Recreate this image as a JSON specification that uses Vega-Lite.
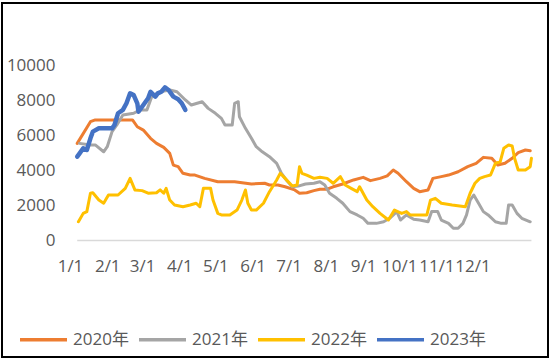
{
  "$schema": "https://vega.github.io/schema/vega-lite/v6.json",
  "width": 546,
  "height": 354,
  "autosize": {"type": "none"},
  "padding": {"left": 2, "top": 3, "right": 2, "bottom": 4},
  "background": "white",
  "config": {"view": {"stroke": "#000000", "strokeWidth": 2}, "font": "Open Sans"},
  "datasets": {
    "series": [
      {"series":"2020年","day":6,"value":5550},{"series":"2020年","day":17,"value":6790},{"series":"2020年","day":21,"value":6890},{"series":"2020年","day":48,"value":6890},{"series":"2020年","day":52,"value":6890},{"series":"2020年","day":56,"value":6500},{"series":"2020年","day":61,"value":6310},{"series":"2020年","day":67,"value":5840},{"series":"2020年","day":72,"value":5550},{"series":"2020年","day":78,"value":5320},{"series":"2020年","day":83,"value":4980},{"series":"2020年","day":86,"value":4310},{"series":"2020年","day":90,"value":4220},{"series":"2020年","day":94,"value":3840},{"series":"2020年","day":100,"value":3740},{"series":"2020年","day":104,"value":3740},{"series":"2020年","day":112,"value":3550},{"series":"2020年","day":123,"value":3360},{"series":"2020年","day":137,"value":3360},{"series":"2020年","day":151,"value":3230},{"series":"2020年","day":162,"value":3270},{"series":"2020年","day":166,"value":3170},{"series":"2020年","day":173,"value":3170},{"series":"2020年","day":179,"value":3070},{"series":"2020年","day":187,"value":2890},{"series":"2020年","day":191,"value":2700},{"series":"2020年","day":197,"value":2730},{"series":"2020年","day":203,"value":2850},{"series":"2020年","day":208,"value":2930},{"series":"2020年","day":214,"value":2930},{"series":"2020年","day":219,"value":3070},{"series":"2020年","day":227,"value":3230},{"series":"2020年","day":236,"value":3460},{"series":"2020年","day":244,"value":3610},{"series":"2020年","day":250,"value":3420},{"series":"2020年","day":258,"value":3550},{"series":"2020年","day":264,"value":3690},{"series":"2020年","day":269,"value":4030},{"series":"2020年","day":273,"value":3840},{"series":"2020年","day":280,"value":3360},{"series":"2020年","day":286,"value":2980},{"series":"2020年","day":291,"value":2790},{"series":"2020年","day":298,"value":2890},{"series":"2020年","day":302,"value":3550},{"series":"2020年","day":309,"value":3650},{"series":"2020年","day":315,"value":3740},{"series":"2020年","day":323,"value":3930},{"series":"2020年","day":331,"value":4220},{"series":"2020年","day":338,"value":4410},{"series":"2020年","day":344,"value":4750},{"series":"2020年","day":351,"value":4700},{"series":"2020年","day":356,"value":4310},{"series":"2020年","day":362,"value":4410},{"series":"2020年","day":368,"value":4700},{"series":"2020年","day":373,"value":5020},{"series":"2020年","day":379,"value":5170},{"series":"2020年","day":383,"value":5130},
      {"series":"2021年","day":8,"value":5550},{"series":"2021年","day":17,"value":5460},{"series":"2021年","day":21,"value":5460},{"series":"2021年","day":28,"value":5070},{"series":"2021年","day":31,"value":5360},{"series":"2021年","day":35,"value":6220},{"series":"2021年","day":39,"value":6600},{"series":"2021年","day":44,"value":7170},{"series":"2021年","day":53,"value":7270},{"series":"2021年","day":58,"value":7460},{"series":"2021年","day":64,"value":7460},{"series":"2021年","day":65,"value":7650},{"series":"2021年","day":68,"value":8220},{"series":"2021年","day":75,"value":8500},{"series":"2021年","day":83,"value":8600},{"series":"2021年","day":89,"value":8500},{"series":"2021年","day":96,"value":8030},{"series":"2021年","day":101,"value":7740},{"series":"2021年","day":110,"value":7930},{"series":"2021年","day":115,"value":7550},{"series":"2021年","day":121,"value":7270},{"series":"2021年","day":126,"value":6980},{"series":"2021年","day":129,"value":6600},{"series":"2021年","day":135,"value":6600},{"series":"2021年","day":137,"value":7840},{"series":"2021年","day":140,"value":7930},{"series":"2021年","day":141,"value":7070},{"series":"2021年","day":146,"value":6410},{"series":"2021年","day":151,"value":5840},{"series":"2021年","day":155,"value":5360},{"series":"2021年","day":160,"value":5070},{"series":"2021年","day":166,"value":4790},{"series":"2021年","day":172,"value":4410},{"series":"2021年","day":176,"value":3840},{"series":"2021年","day":180,"value":3460},{"series":"2021年","day":185,"value":3070},{"series":"2021年","day":190,"value":3110},{"series":"2021年","day":196,"value":3230},{"series":"2021年","day":203,"value":3270},{"series":"2021年","day":208,"value":3360},{"series":"2021年","day":212,"value":3170},{"series":"2021年","day":216,"value":2700},{"series":"2021年","day":222,"value":2410},{"series":"2021年","day":227,"value":2130},{"series":"2021年","day":233,"value":1650},{"series":"2021年","day":239,"value":1460},{"series":"2021年","day":244,"value":1270},{"series":"2021年","day":248,"value":980},{"series":"2021年","day":255,"value":980},{"series":"2021年","day":261,"value":1070},{"series":"2021年","day":266,"value":1270},{"series":"2021年","day":272,"value":1650},{"series":"2021年","day":275,"value":1170},{"series":"2021年","day":280,"value":1460},{"series":"2021年","day":286,"value":1210},{"series":"2021年","day":291,"value":1170},{"series":"2021年","day":298,"value":1070},{"series":"2021年","day":301,"value":1650},{"series":"2021年","day":306,"value":1650},{"series":"2021年","day":309,"value":1170},{"series":"2021年","day":315,"value":980},{"series":"2021年","day":319,"value":700},{"series":"2021年","day":323,"value":700},{"series":"2021年","day":327,"value":980},{"series":"2021年","day":330,"value":1460},{"series":"2021年","day":333,"value":2310},{"series":"2021年","day":336,"value":2600},{"series":"2021年","day":340,"value":2130},{"series":"2021年","day":344,"value":1650},{"series":"2021年","day":348,"value":1460},{"series":"2021年","day":354,"value":1070},{"series":"2021年","day":359,"value":980},{"series":"2021年","day":363,"value":980},{"series":"2021年","day":365,"value":2030},{"series":"2021年","day":368,"value":2030},{"series":"2021年","day":372,"value":1550},{"series":"2021年","day":376,"value":1270},{"series":"2021年","day":383,"value":1070},
      {"series":"2022年","day":7,"value":1070},{"series":"2022年","day":11,"value":1550},{"series":"2022年","day":14,"value":1650},{"series":"2022年","day":17,"value":2700},{"series":"2022年","day":19,"value":2730},{"series":"2022年","day":24,"value":2310},{"series":"2022年","day":28,"value":2130},{"series":"2022年","day":32,"value":2600},{"series":"2022年","day":40,"value":2600},{"series":"2022年","day":46,"value":2980},{"series":"2022年","day":50,"value":3550},{"series":"2022年","day":54,"value":2890},{"series":"2022年","day":60,"value":2850},{"series":"2022年","day":65,"value":2700},{"series":"2022年","day":72,"value":2730},{"series":"2022年","day":75,"value":2890},{"series":"2022年","day":78,"value":2700},{"series":"2022年","day":80,"value":2980},{"series":"2022年","day":83,"value":2310},{"series":"2022年","day":87,"value":2030},{"series":"2022年","day":94,"value":1930},{"series":"2022年","day":100,"value":2030},{"series":"2022年","day":105,"value":2130},{"series":"2022年","day":108,"value":1930},{"series":"2022年","day":111,"value":2980},{"series":"2022年","day":117,"value":2980},{"series":"2022年","day":119,"value":2310},{"series":"2022年","day":123,"value":1550},{"series":"2022年","day":126,"value":1460},{"series":"2022年","day":133,"value":1460},{"series":"2022年","day":139,"value":1740},{"series":"2022年","day":143,"value":2310},{"series":"2022年","day":146,"value":2890},{"series":"2022年","day":148,"value":2130},{"series":"2022年","day":151,"value":1740},{"series":"2022年","day":155,"value":1740},{"series":"2022年","day":161,"value":2130},{"series":"2022年","day":166,"value":2790},{"series":"2022年","day":172,"value":3460},{"series":"2022年","day":175,"value":3840},{"series":"2022年","day":179,"value":3550},{"series":"2022年","day":185,"value":3110},{"series":"2022年","day":189,"value":3170},{"series":"2022年","day":191,"value":4220},{"series":"2022年","day":193,"value":3840},{"series":"2022年","day":197,"value":3740},{"series":"2022年","day":203,"value":3550},{"series":"2022年","day":208,"value":3610},{"series":"2022年","day":214,"value":3550},{"series":"2022年","day":219,"value":3270},{"series":"2022年","day":225,"value":3650},{"series":"2022年","day":229,"value":3170},{"series":"2022年","day":234,"value":2980},{"series":"2022年","day":239,"value":2790},{"series":"2022年","day":241,"value":3070},{"series":"2022年","day":247,"value":2310},{"series":"2022年","day":252,"value":1930},{"series":"2022年","day":258,"value":1550},{"series":"2022年","day":265,"value":1170},{"series":"2022年","day":270,"value":1740},{"series":"2022年","day":276,"value":1550},{"series":"2022年","day":280,"value":1650},{"series":"2022年","day":283,"value":1460},{"series":"2022年","day":297,"value":1460},{"series":"2022年","day":300,"value":2310},{"series":"2022年","day":304,"value":2410},{"series":"2022年","day":309,"value":2130},{"series":"2022年","day":318,"value":2030},{"series":"2022年","day":329,"value":1930},{"series":"2022年","day":333,"value":2700},{"series":"2022年","day":337,"value":3270},{"series":"2022年","day":341,"value":3550},{"series":"2022年","day":345,"value":3650},{"series":"2022年","day":350,"value":3740},{"series":"2022年","day":354,"value":4410},{"series":"2022年","day":358,"value":4500},{"series":"2022年","day":361,"value":5270},{"series":"2022年","day":365,"value":5460},{"series":"2022年","day":368,"value":5400},{"series":"2022年","day":370,"value":4700},{"series":"2022年","day":373,"value":4030},{"series":"2022年","day":379,"value":4030},{"series":"2022年","day":383,"value":4220},{"series":"2022年","day":384,"value":4700},
      {"series":"2023年","day":6,"value":4790},{"series":"2023年","day":8,"value":4980},{"series":"2023年","day":11,"value":5270},{"series":"2023年","day":14,"value":5170},{"series":"2023年","day":17,"value":5840},{"series":"2023年","day":19,"value":6220},{"series":"2023年","day":24,"value":6410},{"series":"2023年","day":35,"value":6410},{"series":"2023年","day":37,"value":6600},{"series":"2023年","day":40,"value":7270},{"series":"2023年","day":44,"value":7460},{"series":"2023年","day":47,"value":7840},{"series":"2023年","day":50,"value":8410},{"series":"2023年","day":53,"value":8310},{"series":"2023年","day":56,"value":7840},{"series":"2023年","day":57,"value":7360},{"series":"2023年","day":61,"value":7740},{"series":"2023年","day":65,"value":8130},{"series":"2023年","day":67,"value":8500},{"series":"2023年","day":71,"value":8220},{"series":"2023年","day":73,"value":8410},{"series":"2023年","day":76,"value":8500},{"series":"2023年","day":79,"value":8750},{"series":"2023年","day":82,"value":8600},{"series":"2023年","day":86,"value":8220},{"series":"2023年","day":90,"value":8070},{"series":"2023年","day":93,"value":7840},{"series":"2023年","day":96,"value":7460}
    ]
  },
  "data": {"name": "series"},
  "layer": [
    {
      "transform": [{"aggregate": [{"op": "min", "field": "day", "as": "d0"}, {"op": "max", "field": "day", "as": "d1"}]}],
      "mark": {"type": "rule", "color": "#d9d9d9", "strokeWidth": 1.5},
      "encoding": {
        "x": {"field": "d0", "type": "quantitative", "scale": {"domain": [-56.6, 397.8], "nice": false, "zero": false}},
        "x2": {"field": "d1"},
        "y": {"datum": 0, "type": "quantitative", "scale": {"domain": [-6657, 13571], "nice": false, "zero": false}}
      }
    },
    {
      "transform": [{"filter": "datum.series !== '2023年'"}],
      "mark": {"type": "line", "strokeJoin": "round", "strokeCap": "round", "strokeWidth": 3},
      "encoding": {
        "x": {
          "field": "day", "type": "quantitative",
          "scale": {"domain": [-56.6, 397.8], "nice": false, "zero": false},
          "axis": {
            "orient": "bottom", "offset": -99, "title": null, "ticks": false, "domain": false, "grid": false,
            "values": [0, 31, 60, 91, 121, 152, 182, 213, 244, 274, 305, 335],
            "labelExpr": "timeFormat(datetime(2020, 0, 1 + datum.value), '%-m/%-d')",
            "labelPadding": 0, "labelFontSize": 17, "labelColor": "#595959", "labelFont": "Open Sans",
            "labelOverlap": false, "labelFlush": false, "labelBound": false
          }
        },
        "y": {
          "field": "value", "type": "quantitative",
          "scale": {"domain": [-6657, 13571], "nice": false, "zero": false},
          "axis": {
            "orient": "left", "offset": -55, "title": null, "ticks": false, "domain": false, "grid": false,
            "values": [0, 2000, 4000, 6000, 8000, 10000], "format": "d",
            "labelPadding": 2, "labelFontSize": 17, "labelColor": "#595959", "labelFont": "Open Sans"
          }
        },
        "color": {
          "field": "series", "type": "nominal",
          "scale": {"domain": ["2020年", "2021年", "2022年", "2023年"], "range": ["#ED7D31", "#A5A5A5", "#FFC000", "#4472C4"]},
          "legend": {
            "orient": "none", "legendX": 16, "legendY": 311, "direction": "horizontal", "title": null,
            "symbolType": "stroke", "symbolSize": 2209, "symbolStrokeWidth": 3.5,
            "labelFontSize": 17, "labelColor": "#595959", "labelFont": "Open Sans, Noto Sans CJK SC",
            "labelOffset": 4, "columnPadding": 3, "padding": 0
          }
        }
      }
    },
    {
      "transform": [{"filter": "datum.series === '2023年'"}],
      "mark": {"type": "line", "strokeJoin": "round", "strokeCap": "round", "strokeWidth": 4.5},
      "encoding": {
        "x": {"field": "day", "type": "quantitative"},
        "y": {"field": "value", "type": "quantitative"},
        "color": {"field": "series", "type": "nominal"}
      }
    }
  ]
}
